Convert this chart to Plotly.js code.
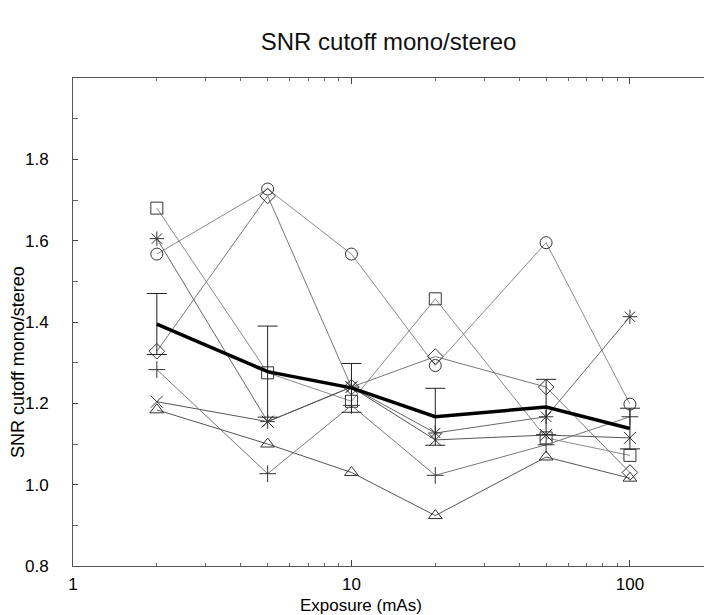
<!DOCTYPE html>
<html>
<head>
<meta charset="utf-8">
<script src="https://cdn.plot.ly/plotly-3.0.1.min.js"></script>
<style>html,body{margin:0;padding:0;background:#fff;}#chart{width:704px;height:615px;}</style>
</head>
<body>
<div id="chart"></div>
<script>
const exposure = [2, 5, 10, 20, 50, 100];
const squareVals = [1.68, 1.275, 1.205, 1.457, 1.115, 1.072];
const circleVals = [1.567, 1.727, 1.567, 1.293, 1.595, 1.198];
const diamondVals = [1.328, 1.71, 1.24, 1.315, 1.24, 1.03];
const asteriskVals = [1.605, 1.155, 1.24, 1.127, 1.167, 1.413];
const crossVals = [1.204, 1.155, 1.24, 1.11, 1.122, 1.115];
const plusVals = [1.283, 1.027, 1.195, 1.023, 1.098, 1.167];
const triangleVals = [1.184, 1.10, 1.03, 0.924, 1.068, 1.016];
const meanVals = [1.395, 1.278, 1.238, 1.167, 1.191, 1.138];
const meanErr = [0.075, 0.112, 0.06, 0.07, 0.068, 0.05];
const yTicks = [0.8, 1.0, 1.2, 1.4, 1.6, 1.8];
const xTicks = [1, 10, 100];

function series(vals, symbol, lineColor) {
  return {
    x: exposure, y: vals, type: 'scatter', mode: 'lines+markers',
    line: {color: lineColor, width: 1},
    marker: {symbol: symbol, size: 12, color: '#333', line: {color: '#333', width: 1}},
    showlegend: false, hoverinfo: 'skip'
  };
}

const traces = [
  series(squareVals, 'square-open', '#8a8a8a'),
  series(circleVals, 'circle-open', '#8a8a8a'),
  series(diamondVals, 'diamond-open', '#777'),
  series(asteriskVals, 'asterisk-open', '#666'),
  series(crossVals, 'x-thin-open', '#555'),
  series(plusVals, 'cross-thin-open', '#777'),
  series(triangleVals, 'triangle-up-open', '#555'),
  {
    x: exposure, y: meanVals, type: 'scatter', mode: 'lines',
    line: {color: '#000', width: 3.5},
    error_y: {type: 'data', array: meanErr, visible: true, color: '#222', thickness: 1, width: 10},
    showlegend: false, hoverinfo: 'skip'
  }
];

const layout = {
  width: 704, height: 615,
  margin: {l: 73, r: 0, t: 78, b: 49},
  paper_bgcolor: '#fff', plot_bgcolor: '#fff',
  font: {family: 'Liberation Sans, Arial, sans-serif', color: '#000', size: 14},
  title: {text: 'SNR cutoff mono/stereo', font: {size: 24, color: '#111'}, x: 0.552, xanchor: 'center', y: 0.932, yanchor: 'middle', yref: 'container'},
  xaxis: {
    type: 'log', range: [0, 2.266],
    tickvals: xTicks, ticktext: ['1', '10', '100'],
    ticks: 'inside', ticklen: 6, tickcolor: '#444',
    minor: {tickvals: [2,3,4,5,6,7,8,9,20,30,40,50,60,70,80,90,200], ticks: 'inside', ticklen: 3, tickcolor: '#666'},
    showline: true, linecolor: '#555', linewidth: 1, mirror: 'allticks',
    showgrid: false, zeroline: false,
    ticklabelstandoff: 3,
    tickfont: {size: 17}
  },
  yaxis: {
    range: [0.8, 2.0],
    tickvals: yTicks, ticktext: yTicks.map(v => v.toFixed(1)),
    ticks: 'inside', ticklen: 5, tickcolor: '#444',
    minor: {tickvals: [0.9, 1.1, 1.3, 1.5, 1.7, 1.9], ticks: 'inside', ticklen: 5, tickcolor: '#666'},
    showline: true, linecolor: '#555', linewidth: 1, mirror: false,
    showgrid: false, zeroline: false,
    ticklabelstandoff: 20,
    tickfont: {size: 17}
  },
  annotations: [
    {text: 'Exposure (mAs)', xref: 'paper', yref: 'paper', x: (361 - 73) / 631, y: -(605 - 566) / 488,
     xanchor: 'center', yanchor: 'middle', showarrow: false, font: {size: 17, color: '#000'}},
    {text: 'SNR cutoff mono/stereo', xref: 'paper', yref: 'paper', x: -(73 - 18) / 631, y: (566 - 362) / 488,
     xanchor: 'center', yanchor: 'middle', textangle: -90, showarrow: false, font: {size: 18, color: '#000'}}
  ]
};

Plotly.newPlot('chart', traces, layout, {staticPlot: true, displayModeBar: false});
</script>
</body>
</html>
